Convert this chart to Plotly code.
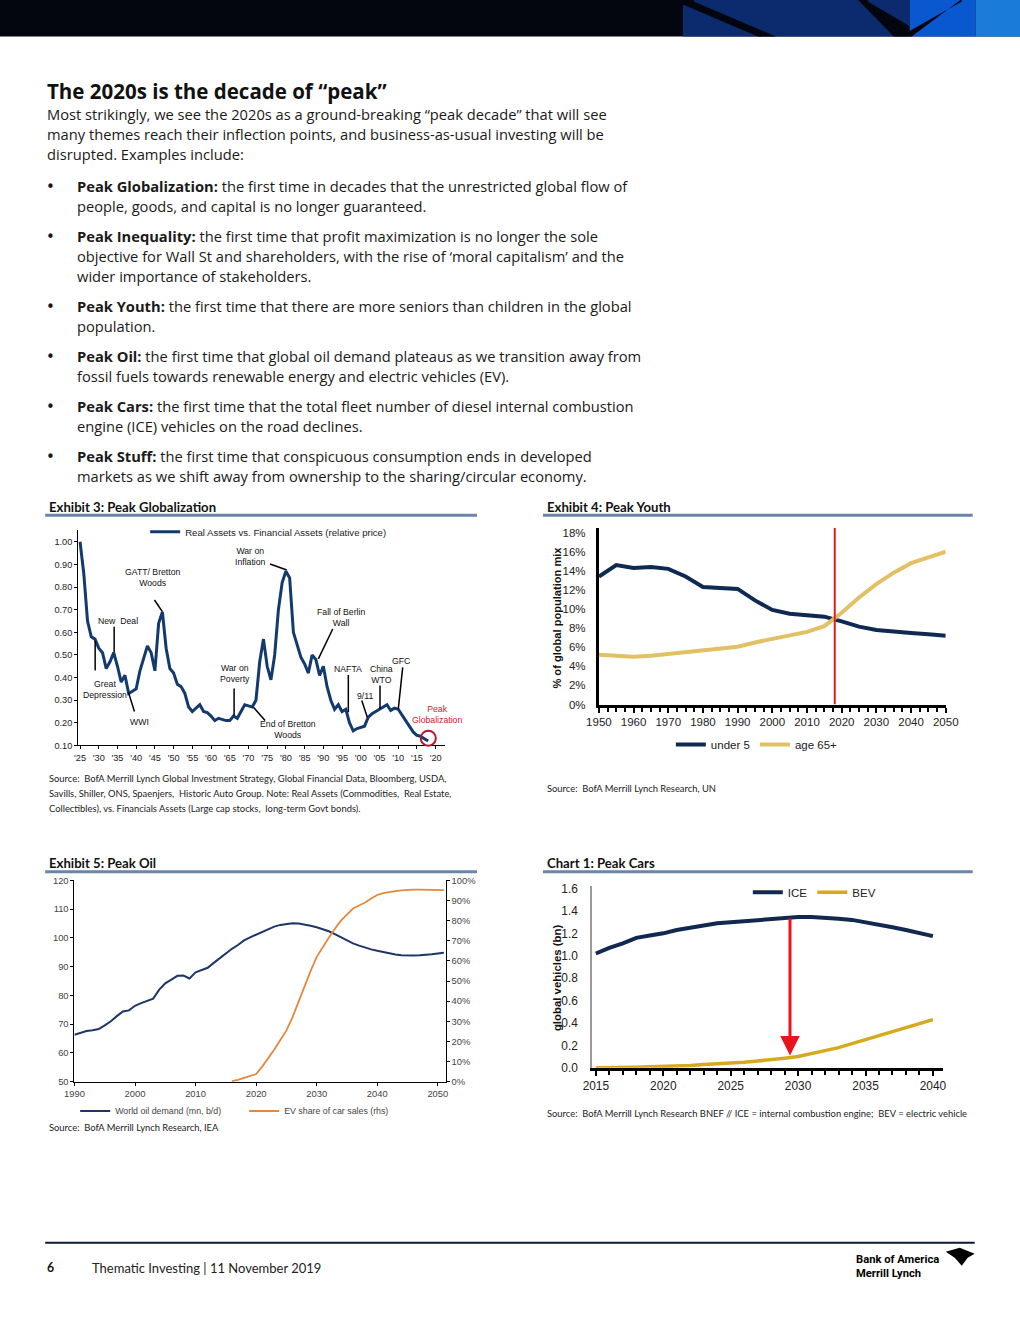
import plotly.graph_objects as go

W, H = 1020, 1320
# the photographed page shows the figure slightly inset/scaled; positions below are
# given in picture pixels and mapped back to figure paper coordinates
AX, SX = 12.8, 0.975
AY, SY = 4.5, 0.9915


def X(px):
    return (px - AX) / SX / W


def Y(py):
    return 1 - (py - AY) / SY / H


# ---------------- DATA ----------------
# Exhibit 3: Real Assets vs Financial Assets (relative price)
glob_years = list(range(1925, 2019))
glob_ratio = [
    1.00, 0.86, 0.65, 0.58, 0.57, 0.53, 0.51, 0.44, 0.47, 0.51,
    0.45, 0.38, 0.41, 0.33, 0.34, 0.35, 0.43, 0.48, 0.54, 0.51,
    0.43, 0.64, 0.69, 0.53, 0.44, 0.42, 0.37, 0.36, 0.33, 0.27,
    0.25, 0.265, 0.28, 0.25, 0.245, 0.23, 0.21, 0.22, 0.215, 0.21,
    0.21, 0.23, 0.22, 0.25, 0.28, 0.275, 0.27, 0.30, 0.47, 0.57,
    0.45, 0.39, 0.50, 0.70, 0.82, 0.87, 0.84, 0.60, 0.55, 0.49,
    0.46, 0.42, 0.50, 0.48, 0.41, 0.45, 0.36, 0.30, 0.26, 0.28,
    0.25, 0.26, 0.20, 0.165, 0.175, 0.18, 0.185, 0.225, 0.24, 0.25,
    0.26, 0.27, 0.28, 0.255, 0.265, 0.26, 0.235, 0.21, 0.19, 0.16,
    0.145, 0.14, 0.13, 0.12,
]
glob_tick_years = list(range(1925, 2021, 5))
glob_tick_text = ["'%02d" % (y % 100) for y in glob_tick_years]
glob_y_ticks = [0.1, 0.2, 0.3, 0.4, 0.5, 0.6, 0.7, 0.8, 0.9, 1.0]

# Exhibit 4: Peak Youth (% of global population)
youth_years = list(range(1950, 2051, 5))
under5 = [13.4, 14.6, 14.3, 14.4, 14.2, 13.4, 12.3, 12.2, 12.1, 10.9, 9.9,
          9.5, 9.35, 9.2, 8.7, 8.15, 7.8, 7.6, 7.5, 7.35, 7.2]
age65 = [5.2, 5.1, 5.0, 5.1, 5.3, 5.5, 5.75, 5.9, 6.05, 6.5, 6.9,
         7.25, 7.6, 8.2, 9.6, 11.2, 12.6, 13.8, 14.8, 15.4, 16.0]
youth_y_ticks = list(range(0, 19, 2))
youth_y_text = ["%d%%" % v for v in youth_y_ticks]
youth_marker_year = 2018

# Exhibit 5: Peak Oil
oil_years = list(range(1990, 2052))
oil_demand = [
    66.3, 66.9, 67.6, 67.9, 68.3, 69.6, 71.0, 72.8, 74.4, 74.8,
    76.4, 77.3, 78.2, 78.9, 82.0, 84.2, 85.5, 86.8, 86.9, 85.9,
    88.0, 88.9, 89.6, 91.3, 92.9, 94.7, 96.2, 97.5, 99.1, 100.2,
    101.1, 102.1, 103.1, 103.9, 104.5, 104.9, 105.1, 105.0, 104.7, 104.2,
    103.7, 103.1, 102.3, 101.3, 100.2, 99.1, 98.1, 97.3, 96.6, 96.0,
    95.5, 95.0, 94.6, 94.2, 94.0, 93.9, 93.9, 94.0, 94.1, 94.3,
    94.6, 94.8,
]
ev_years = list(range(2016, 2052))
ev_share = [
    0.3, 0.9, 1.9, 2.8, 3.8, 7.5, 11.5, 16.0, 20.7, 25.5,
    32.0, 40.0, 47.5, 55.0, 62.0, 67.0, 71.5, 76.0, 80.0, 83.0,
    86.0, 87.5, 89.0, 91.0, 92.7, 93.6, 94.2, 94.6, 95.0, 95.3,
    95.4, 95.4, 95.4, 95.3, 95.2, 95.1,
]

# Chart 1: Peak Cars (global vehicles, bn)
car_years = list(range(2015, 2041))
ice = [1.02, 1.07, 1.11, 1.16, 1.18, 1.20, 1.23, 1.25, 1.27, 1.29, 1.30,
       1.31, 1.32, 1.33, 1.34, 1.345, 1.345, 1.34, 1.33, 1.32, 1.30,
       1.28, 1.255, 1.23, 1.205, 1.175]
bev = [0.0, 0.0, 0.002, 0.005, 0.008, 0.01, 0.015, 0.02, 0.03, 0.035, 0.04,
       0.05, 0.06, 0.07, 0.085, 0.10, 0.125, 0.15, 0.18, 0.215, 0.25,
       0.285, 0.32, 0.355, 0.39, 0.43]
car_y_ticks = [0, 0.2, 0.4, 0.6, 0.8, 1.0, 1.2, 1.4, 1.6]
peak_car_year = 2029.4

# ---------------- STYLE ----------------
BODY = "Open Sans"
CAPT = "Lato"
CHART = "Liberation Sans"
NAVY = "#133a6e"
DARK = "#1a1a1a"

fig = go.Figure()

fig.add_trace(go.Scatter(x=glob_years, y=glob_ratio, mode="lines",
                         name="Real Assets vs. Financial Assets (relative price)",
                         line=dict(color=NAVY, width=3), xaxis="x", yaxis="y",
                         legend="legend", showlegend=True))
fig.add_trace(go.Scatter(x=youth_years, y=under5, mode="lines", name="under 5",
                         line=dict(color="#0f2a52", width=4), xaxis="x2", yaxis="y2",
                         legend="legend2", showlegend=True))
fig.add_trace(go.Scatter(x=youth_years, y=age65, mode="lines", name="age 65+",
                         line=dict(color="#e2c064", width=4), xaxis="x2", yaxis="y2",
                         legend="legend2", showlegend=True))
fig.add_trace(go.Scatter(x=oil_years, y=oil_demand, mode="lines",
                         name="World oil demand (mn, b/d)",
                         line=dict(color="#1c3766", width=2), xaxis="x3", yaxis="y3",
                         legend="legend3", showlegend=True))
fig.add_trace(go.Scatter(x=ev_years, y=ev_share, mode="lines",
                         name="EV share of car sales (rhs)",
                         line=dict(color="#e3883c", width=1.8), xaxis="x3", yaxis="y4",
                         legend="legend3", showlegend=True))
fig.add_trace(go.Scatter(x=car_years, y=ice, mode="lines", name="ICE",
                         line=dict(color="#12294f", width=4), xaxis="x4", yaxis="y5",
                         legend="legend4", showlegend=True))
fig.add_trace(go.Scatter(x=car_years, y=bev, mode="lines", name="BEV",
                         line=dict(color="#d6aa1c", width=3.5), xaxis="x4", yaxis="y5",
                         legend="legend4", showlegend=True))

small_tick = dict(family=CHART, size=9.2, color="#222")
mid_tick = dict(family=CHART, size=11.5, color="#222")
car_tick = dict(family=CHART, size=11.9, color="#222")
oil_tick = dict(family=CHART, size=9.4, color="#444")

common = dict(showgrid=False, zeroline=False, fixedrange=True)

layout = dict(
    width=W, height=H, autosize=False, showlegend=True,
    margin=dict(l=0, r=0, t=0, b=0),
    paper_bgcolor="white", plot_bgcolor="white",
    font=dict(family=BODY, color=DARK),
    xaxis=dict(domain=[X(78), X(445)], range=[1924.5, 2022.5], anchor="y",
               tickvals=glob_tick_years, ticktext=glob_tick_text,
               showline=True, linecolor="black", linewidth=1,
               ticks="outside", ticklen=3, tickcolor="black", tickfont=small_tick, **common),
    yaxis=dict(domain=[Y(745), Y(529)], range=[0.10, 1.053], anchor="x",
               tickvals=glob_y_ticks, ticktext=["%.2f" % v for v in glob_y_ticks],
               showline=True, linecolor="black", linewidth=1,
               ticks="outside", ticklen=3, tickcolor="black", tickfont=small_tick, **common),
    xaxis2=dict(domain=[X(599), X(946)], range=[1950, 2050], anchor="y2",
                tick0=1950, dtick=10, showline=True, linecolor="black", linewidth=3,
                ticks="outside", ticklen=5, tickwidth=2, tickcolor="black",
                minor=dict(dtick=2.5, ticks="outside", ticklen=4, tickwidth=2, tickcolor="black"),
                tickfont=mid_tick, **common),
    yaxis2=dict(domain=[Y(704), Y(527)], range=[0, 18.5], anchor="x2",
                tickvals=youth_y_ticks, ticktext=youth_y_text, ticklabelstandoff=8,
                showline=True, linecolor="black", linewidth=3,
                ticks="", tickfont=mid_tick, **common),
    xaxis3=dict(domain=[X(74.3), X(445.7)], range=[1990, 2051.3], anchor="y3",
                tickvals=list(range(1990, 2051, 10)), showline=True, linecolor="black",
                linewidth=1, ticks="outside", ticklen=3, tickcolor="black",
                tickfont=oil_tick, **common),
    yaxis3=dict(domain=[Y(1081.7), Y(880)], range=[50, 120], anchor="x3", dtick=10,
                showline=True, linecolor="black", linewidth=1, ticks="outside", ticklen=3,
                tickcolor="black", tickfont=oil_tick, **common),
    yaxis4=dict(range=[0, 100], overlaying="y3", side="right", anchor="x3", dtick=10,
                ticksuffix="%", showline=True, linecolor="black", linewidth=1,
                ticks="outside", ticklen=3, tickcolor="black", tickfont=oil_tick, **common),
    xaxis4=dict(domain=[X(592.3), X(943.3)], range=[2014.73, 2040.75], anchor="y5",
                tickvals=list(range(2015, 2041, 5)), showline=True, linecolor="black",
                linewidth=3, ticks="outside", ticklen=5, tickwidth=2, tickcolor="black",
                minor=dict(dtick=1, tick0=2015, ticks="outside", ticklen=4, tickwidth=2,
                           tickcolor="black"),
                tickfont=car_tick, **common),
    yaxis5=dict(domain=[Y(1067.7), Y(886)], range=[0, 1.62], anchor="x4",
                tickvals=car_y_ticks, ticktext=["%.1f" % v for v in car_y_ticks],
                ticklabelstandoff=10,
                showline=True, linecolor="#9a9a9a", linewidth=2, ticks="",
                tickfont=car_tick, **common),
    legend=dict(x=X(145), y=Y(531), xanchor="left", yanchor="middle",
                font=dict(family=CHART, size=9.6, color="#222"), visible=True,
                bgcolor="rgba(0,0,0,0)", itemclick=False, itemdoubleclick=False),
    legend2=dict(x=X(671), y=Y(744), xanchor="left", yanchor="middle", orientation="h",
                 font=dict(family=CHART, size=11.5, color="#222"),
                 bgcolor="rgba(0,0,0,0)", itemclick=False, itemdoubleclick=False),
    legend3=dict(x=X(75), y=Y(1111), xanchor="left", yanchor="middle", orientation="h",
                 font=dict(family=CHART, size=8.8, color="#444"),
                 bgcolor="rgba(0,0,0,0)", itemclick=False, itemdoubleclick=False,
                 entrywidth=124, entrywidthmode="pixels"),
    legend4=dict(x=X(748), y=Y(892), xanchor="left", yanchor="middle", orientation="h",
                 font=dict(family=CHART, size=11.5, color="#222"),
                 bgcolor="rgba(0,0,0,0)", itemclick=False, itemdoubleclick=False),
)
fig.update_layout(**layout)

shapes = []
annotations = []


def text(t, px, py, size=14.7, color=DARK, family=BODY, anchor="left", **kw):
    annotations.append(dict(text=t, x=X(px), y=Y(py), xref="paper", yref="paper",
                            xanchor=anchor, yanchor="middle", showarrow=False,
                            font=dict(family=family, size=size, color=color), **kw))


def line(x0, y0, x1, y1, color="black", width=1.5):
    shapes.append(dict(type="line", xref="paper", yref="paper",
                       x0=X(x0), y0=Y(y0), x1=X(x1), y1=Y(y1),
                       line=dict(color=color, width=width)))


def poly(points, color):
    path = "M " + " L ".join("%.5f,%.5f" % (X(a), Y(b)) for a, b in points) + " Z"
    shapes.append(dict(type="path", xref="paper", yref="paper", path=path,
                       fillcolor=color, line=dict(width=0)))


# ---- header bar ----
BLACK_BAR = "#03060f"
poly([(-20, -10), (1040, -10), (1040, 35), (-20, 35)], BLACK_BAR)
poly([(683, -10), (910, -10), (910, 35), (683, 35)], "#0c2a6e")
poly([(683, -10), (694, -10), (694, 0), (776, 35), (758, 35), (683, 3)], BLACK_BAR)
poly([(850, -10), (868, -10), (868, 0), (912, 26), (906, 33), (900, 35), (894, 35)], BLACK_BAR)
poly([(910, -10), (976, -10), (976, 35), (910, 35)], "#0a58cf")
poly([(976, -10), (1040, -10), (1040, 35), (976, 35)], "#1a7bd8")
poly([(900, 35), (912, 35), (972, -10), (962, -10), (962, 0)], BLACK_BAR)

# ---- title and body ----
text("<b>The 2020s is the decade of “peak”</b>", 45, 90, size=20.5, color="#111")
body = [
    "Most strikingly, we see the 2020s as a ground-breaking “peak decade” that will see",
    "many themes reach their inflection points, and business-as-usual investing will be",
    "disrupted. Examples include:",
]
for i, t in enumerate(body):
    text(t, 45, 113 + 20 * i)

bullets = [
    (185, ["<b>Peak Globalization:</b> the first time in decades that the unrestricted global flow of",
           "people, goods, and capital is no longer guaranteed."]),
    (235, ["<b>Peak Inequality:</b> the first time that profit maximization is no longer the sole",
           "objective for Wall St and shareholders, with the rise of ‘moral capitalism’ and the",
           "wider importance of stakeholders."]),
    (305, ["<b>Peak Youth:</b> the first time that there are more seniors than children in the global",
           "population."]),
    (355, ["<b>Peak Oil:</b> the first time that global oil demand plateaus as we transition away from",
           "fossil fuels towards renewable energy and electric vehicles (EV)."]),
    (405, ["<b>Peak Cars:</b> the first time that the total fleet number of diesel internal combustion",
           "engine (ICE) vehicles on the road declines."]),
    (455, ["<b>Peak Stuff:</b> the first time that conspicuous consumption ends in developed",
           "markets as we shift away from ownership to the sharing/circular economy."]),
]
for y0, lines_ in bullets:
    text("•", 44, y0 + 1, size=15, family="DejaVu Sans")
    for i, t in enumerate(lines_):
        text(t, 75, y0 + 20 * i)

# ---- exhibit headers ----
HEAD_BLUE = "#6b85a8"
for label, px, py, x1 in [("Exhibit 3: Peak Globalization", 47, 506, 477),
                          ("Exhibit 4: Peak Youth", 545, 506, 973),
                          ("Exhibit 5: Peak Oil", 47, 863, 477),
                          ("Chart 1: Peak Cars", 545, 863, 973)]:
    text("<b>" + label + "</b>", px, py, size=13.15, color="#111", family=CAPT)
    line(px - 2, py + 8.5, x1, py + 8.5, color=HEAD_BLUE, width=3)

# ---- sources ----
SRC = dict(size=9.4, color="#222", family=CAPT)
text("Source:  BofA Merrill Lynch Global Investment Strategy, Global Financial Data, Bloomberg, USDA,", 47, 778, **SRC)
text("Savills, Shiller, ONS, Spaenjers,  Historic Auto Group. Note: Real Assets (Commodities,  Real Estate,", 47, 793, **SRC)
text("Collectibles), vs. Financials Assets (Large cap stocks,  long-term Govt bonds).", 47, 808, **SRC)
text("Source:  BofA Merrill Lynch Research, UN", 545, 788, **SRC)
text("Source:  BofA Merrill Lynch Research, IEA", 47, 1128, **SRC)
text("Source:  BofA Merrill Lynch Research BNEF // ICE = internal combustion engine;  BEV = electric vehicle", 545, 1114, **SRC)

# ---- exhibit 3 event labels ----
events = [
    ("GATT/ Bretton<br>Woods", 153, 577, (154.3, 599.3, 162.3, 611)),
    ("New  Deal", 118, 620, (114, 626, 114, 652)),
    ("Great<br>Depression", 105, 689, (95, 640, 95, 670)),
    ("WWI", 139, 721, (128.3, 691.7, 134.3, 711)),
    ("War on<br>Inflation", 250, 556, (270, 563.3, 286.7, 569.3)),
    ("War on<br>Poverty", 235, 673, (234, 688, 234, 715)),
    ("End of Bretton<br>Woods", 288, 729, (253.3, 706.7, 265, 720)),
    ("Fall of Berlin<br>Wall", 341, 617, (332.7, 628.3, 318.3, 658.3)),
    ("NAFTA", 348, 668, (348.3, 674.3, 348.3, 711.7)),
    ("9/11", 365, 695, (361.7, 700, 367.3, 716.7)),
    ("China<br>WTO", 381, 674, (380, 685, 380, 708.3)),
    ("GFC", 401, 660, (402.7, 666.7, 398.3, 708.3)),
]
for t, px, py, seg in events:
    text(t, px, py, anchor="center", family=CHART, size=8.7, color="#111")
    line(*seg, color="black", width=1.5)
text("Peak<br>Globalization", 437, 714, anchor="center", family=CHART, size=8.7, color="#d0202e")
shapes.append(dict(type="circle", xref="paper", yref="paper",
                   x0=X(420.8), x1=X(435.8), y0=Y(745.2), y1=Y(730.2),
                   line=dict(color="#b8142a", width=2)))

# ---- exhibit 4 marker line ----
shapes.append(dict(type="line", xref="x2", yref="y2", x0=youth_marker_year, x1=youth_marker_year,
                   y0=0, y1=18.5, line=dict(color="#e01b1b", width=2)))
annotations.append(dict(text="<b>% of global population mix</b>", x=X(557), y=Y(617),
                        xref="paper", yref="paper", textangle=-90, showarrow=False,
                        xanchor="center", yanchor="middle",
                        font=dict(family=CHART, size=11.1, color="#111")))

# ---- chart 1 arrow + axis title ----
annotations.append(dict(text="", x=peak_car_year, y=0.11, ax=peak_car_year, ay=1.345,
                        xref="x4", yref="y5", axref="x4", ayref="y5", showarrow=True,
                        arrowhead=2, arrowsize=1.3, arrowwidth=3, arrowcolor="#e8141b"))
annotations.append(dict(text="<b>global vehicles (bn)</b>", x=X(557), y=Y(977),
                        xref="paper", yref="paper", textangle=-90, showarrow=False,
                        xanchor="center", yanchor="middle",
                        font=dict(family=CHART, size=11.4, color="#111")))

# ---- footer ----
line(45, 1243, 975, 1243, color="#0b1a3a", width=2)
text("<b>6</b>", 45, 1268, size=12.3, color="#111", family=CAPT)
text("Thematic Investing | 11 November 2019", 90, 1268, size=13.0, color="#222", family=CAPT)
text("<b>Bank of America</b>", 854, 1260, size=11.2, color="#000", family="Roboto")
text("<b>Merrill Lynch</b>", 854, 1274, size=11.2, color="#000", family="Roboto")
poly([(946, 1252), (960, 1248), (975, 1254), (968, 1258), (962, 1266), (955, 1258)], "#000")

fig.update_layout(shapes=shapes, annotations=annotations)

fig.write_html("out.html", config={"displayModeBar": False},
               post_script="document.body.style.margin='0';document.body.style.overflow='hidden';")
